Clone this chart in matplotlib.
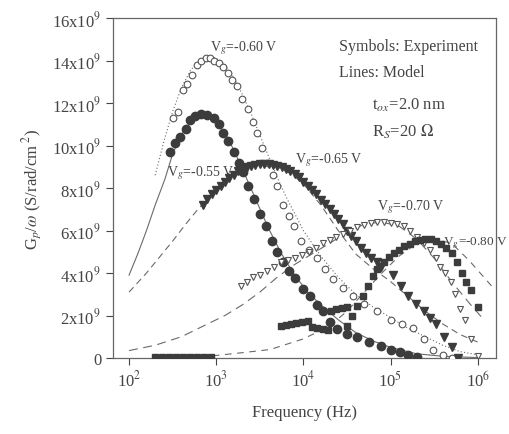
import numpy as np
import matplotlib
matplotlib.use("Agg")
import matplotlib.pyplot as plt

plt.rcParams["font.family"] = ["Liberation Serif", "DejaVu Serif"]
plt.rcParams["mathtext.fontset"] = "stix"

# experiment, log10(frequency) and Gp/w in units of 1e9
d55_logf = [2.47, 2.53, 2.59, 2.65, 2.7, 2.76, 2.82, 2.9, 2.97, 3.03, 3.08, 3.14, 3.2, 3.26,
            3.31, 3.37, 3.43, 3.5, 3.57, 3.64, 3.7, 3.77, 3.84, 3.9, 4.0, 4.08, 4.16, 4.23,
            4.31, 4.39, 4.5, 4.62, 4.75, 4.89, 5.0, 5.11, 5.2, 5.3]
d55_g = [9.7, 10.1, 10.4, 10.8, 11.2, 11.4, 11.5, 11.45, 11.3, 11.0, 10.6, 10.2, 9.7, 9.2,
         8.75, 8.1, 7.5, 6.8, 6.2, 5.5, 5.0, 4.5, 4.1, 3.75, 3.25, 2.9, 2.5, 2.2,
         1.7, 1.35, 1.15, 1.0, 0.75, 0.55, 0.4, 0.3, 0.15, 0.05]

d60_logf = [2.5, 2.56, 2.62, 2.67, 2.72, 2.78, 2.83, 2.88, 2.93, 2.98, 3.03, 3.08, 3.13, 3.18,
            3.24, 3.3, 3.36, 3.42, 3.47, 3.53, 3.59, 3.65, 3.7, 3.77, 3.83, 3.89, 3.97, 4.06,
            4.16, 4.25, 4.34, 4.45, 4.57, 4.7, 4.85, 5.0, 5.13, 5.26, 5.38, 5.49, 5.6, 5.7]
d60_g = [11.3, 11.6, 12.6, 12.9, 13.3, 13.8, 14.0, 14.1, 14.1, 14.0, 13.9, 13.7, 13.4, 13.1,
         12.8, 12.2, 11.7, 11.1, 10.6, 9.9, 9.2, 8.6, 8.1, 7.2, 6.7, 6.2, 5.5, 5.1,
         4.7, 4.2, 3.7, 3.3, 2.9, 2.55, 2.2, 1.8, 1.6, 1.4, 0.9, 0.4, 0.15, 0.0]

d65_logf = [2.85, 2.9, 2.95, 3.0, 3.05, 3.1, 3.15, 3.2, 3.25, 3.3, 3.35, 3.4, 3.45, 3.5, 3.55,
            3.6, 3.65, 3.7, 3.75, 3.8, 3.85, 3.9, 3.95, 4.0, 4.05, 4.1, 4.15, 4.2, 4.25, 4.3,
            4.35, 4.4, 4.45, 4.5, 4.55, 4.6, 4.66, 4.72, 4.78, 4.84, 4.89,
            5.03, 5.12, 5.2, 5.29, 5.38, 5.45, 5.52, 5.61, 5.71, 5.78]
d65_g = [7.2, 7.5, 7.7, 7.9, 8.1, 8.3, 8.45, 8.6, 8.8, 8.9, 9.0, 9.05, 9.1, 9.15, 9.15,
         9.15, 9.1, 9.05, 9.0, 8.9, 8.8, 8.65, 8.5, 8.3, 8.1, 7.9, 7.7, 7.45, 7.25, 7.0,
         6.8, 6.55, 6.3, 6.0, 5.75, 5.5, 5.2, 4.95, 4.7, 4.5, 4.3,
         3.9, 3.4, 2.9, 2.55, 2.2, 1.9, 1.6, 1.0, 0.5, 0.0]

d70_logf = [3.28, 3.35, 3.42, 3.5, 3.58, 3.66, 3.74, 3.82, 3.9, 3.98, 4.06, 4.14, 4.22, 4.3,
            4.38, 4.46, 4.54, 4.62, 4.7, 4.78, 4.85, 4.93, 5.0, 5.08, 5.15,
            5.22, 5.3, 5.38, 5.45, 5.52, 5.57, 5.63, 5.69, 5.74, 5.8, 5.85, 5.92, 6.0]
d70_g = [3.4, 3.6, 3.8, 3.9, 4.1, 4.3, 4.5, 4.6, 4.7, 4.85, 5.0, 5.2, 5.4, 5.55,
         5.7, 5.85, 6.0, 6.15, 6.25, 6.35, 6.4, 6.4, 6.35, 6.3, 6.2,
         6.0, 5.7, 5.4, 5.1, 4.7, 4.3, 4.0, 3.6, 3.0, 2.3, 1.8, 0.9, 0.1]

d80_logf = [2.3, 2.38, 2.46, 2.54, 2.62, 2.7, 2.78, 2.86, 2.94,
            3.74, 3.8, 3.86, 3.92, 3.98, 4.05, 4.1, 4.16, 4.22, 4.28, 4.32, 4.38, 4.44, 4.5,
            4.5, 4.56, 4.62, 4.68, 4.74, 4.8, 4.85, 4.92, 4.98, 5.04, 5.1, 5.16, 5.22, 5.28,
            5.34, 5.4, 5.46, 5.52, 5.58, 5.64, 5.7, 5.76, 5.82, 5.87, 5.92, 6.0]
d80_g = [0.05, 0.05, 0.05, 0.05, 0.05, 0.05, 0.05, 0.05, 0.05,
         1.5, 1.55, 1.6, 1.65, 1.7, 1.75, 1.45, 1.4, 1.35, 1.3, 2.2, 2.3, 2.35, 2.4,
         1.5, 2.0, 2.45, 2.9, 3.4, 3.85, 4.2, 4.5, 4.75, 4.95, 5.1, 5.25, 5.35, 5.5,
         5.55, 5.6, 5.6, 5.5, 5.35, 5.2, 4.95, 4.5, 4.0, 3.6, 3.2, 2.4]

# model curves
m55_logf = [2.0, 2.1, 2.2, 2.3, 2.41, 2.5, 2.6, 2.7, 2.8, 2.9, 3.0, 3.1, 3.2, 3.3, 3.45, 3.6,
            3.75, 3.9, 4.05, 4.2, 4.4, 4.6, 4.8, 5.0, 5.3, 5.6, 6.0]
m55_g = [3.9, 4.9, 6.0, 7.2, 8.4, 9.6, 10.5, 11.1, 11.4, 11.4, 11.1, 10.6, 9.8, 8.9, 7.5, 6.1,
         4.9, 3.9, 3.1, 2.5, 1.8, 1.2, 0.8, 0.5, 0.2, 0.08, 0.02]
m60_logf = [2.3, 2.4, 2.5, 2.6, 2.7, 2.8, 2.9, 3.0, 3.1, 3.2, 3.3, 3.4, 3.5, 3.6, 3.7, 3.8, 3.9,
            4.0, 4.2, 4.4, 4.6, 4.8, 5.0, 5.2, 5.4, 5.6, 5.8, 6.0]
m60_g = [8.6, 10.2, 11.6, 12.7, 13.5, 14.0, 14.2, 14.1, 13.8, 13.2, 12.4, 11.5, 10.5, 9.5, 8.5,
         7.6, 6.8, 6.0, 4.8, 3.8, 3.0, 2.4, 1.9, 1.4, 1.0, 0.6, 0.3, 0.15]
m65_logf = [2.0, 2.2, 2.36, 2.5, 2.65, 2.79, 2.95, 3.1, 3.25, 3.4, 3.55, 3.7, 3.85, 4.0, 4.2,
            4.4, 4.6, 4.8, 5.0, 5.2, 5.4, 5.6, 5.8, 6.0]
m65_g = [3.1, 4.0, 4.8, 5.5, 6.3, 7.0, 7.7, 8.3, 8.75, 9.0, 9.1, 9.0, 8.7, 8.2, 7.2,
         6.0, 4.9, 4.2, 3.6, 2.9, 2.2, 1.6, 1.1, 0.75]
m70_logf = [2.0, 2.3, 2.6, 2.9, 3.1, 3.3, 3.5, 3.7, 3.9, 4.1, 4.3, 4.5, 4.7, 4.9, 5.1, 5.3,
            5.5, 5.7, 5.9, 6.05]
m70_g = [0.35, 0.6, 1.0, 1.6, 2.0, 2.5, 3.1, 3.8, 4.4, 4.9, 5.4, 5.9, 6.3, 6.4, 6.2, 5.6,
         4.7, 3.6, 2.6, 1.9]
m80_logf = [2.4, 2.7, 3.0, 3.3, 3.62, 4.0, 4.3, 4.5, 4.7, 4.9, 5.1, 5.3, 5.5, 5.7, 5.9, 6.05, 6.2]
m80_g = [0.0, 0.05, 0.12, 0.25, 0.4, 0.9, 1.5, 2.2, 3.1, 4.0, 4.8, 5.4, 5.6, 5.4, 4.6, 3.9, 3.2]

yticks = [0, 2, 4, 6, 8, 10, 12, 14, 16]
xticks = [2, 3, 4, 5, 6]


def f(v):
    return np.power(10.0, np.array(v))


def g(v):
    return np.array(v) * 1e9


fig = plt.figure(figsize=(5.1, 4.35), dpi=100)
ax = fig.add_axes([0.2216, 0.1747, 0.7509, 0.7816])

lc = "#6a6a6a"
ax.plot(f(m55_logf), g(m55_g), "-", color=lc, lw=0.8)
ax.plot(f(m60_logf), g(m60_g), linestyle=(0, (1, 2)), color=lc, lw=0.8)
ax.plot(f(m65_logf), g(m65_g), linestyle=(0, (6, 4)), color=lc, lw=0.8)
ax.plot(f(m70_logf), g(m70_g), linestyle=(0, (8, 5)), color=lc, lw=0.8)
ax.plot(f(m80_logf), g(m80_g), linestyle=(0, (6, 5)), color=lc, lw=0.8)

tc = "#444444"
# this label sits behind the markers, as in the original
ax.text(10 ** 2.43, 8.6e9, r"V$_g$=-0.55 V", fontsize=10, color=tc, zorder=1)

dk = "#3c3c3c"
ax.plot(f(d55_logf), g(d55_g), "o", ms=6, mfc=dk, mec=dk, ls="none", zorder=3)
ax.plot(f(d60_logf), g(d60_g), "o", ms=4.8, mfc="white", mec="#555555", mew=0.8, ls="none", zorder=3)
ax.plot(f(d65_logf), g(d65_g), "v", ms=6, mfc=dk, mec=dk, ls="none", zorder=3)
ax.plot(f(d70_logf), g(d70_g), "v", ms=5, mfc="white", mec="#555555", mew=0.8, ls="none", zorder=3)
ax.plot(f(d80_logf), g(d80_g), "s", ms=4.8, mfc=dk, mec=dk, ls="none", zorder=3)

ax.set_xscale("log")
ax.set_xlim(10 ** 1.816, 10 ** 6.21)
ax.set_ylim(0, 16e9)
ax.set_xticks([10.0 ** k for k in xticks])
ax.set_xticklabels([r"10$^{%d}$" % k for k in xticks])
ax.xaxis.set_minor_locator(matplotlib.ticker.NullLocator())
ax.set_yticks([v * 1e9 for v in yticks])
ax.set_yticklabels(["0" if v == 0 else r"%dx10$^{9}$" % v for v in yticks])
ax.tick_params(labelsize=12, colors="#444444", length=5, width=0.8, direction="out")
for s in ax.spines.values():
    s.set_color("#666666")
    s.set_linewidth(0.9)

ax.set_xlabel("Frequency (Hz)", fontsize=12, color="#444444", labelpad=10)
ax.set_ylabel(r"G$_p$/$\omega$ (S/rad/cm$^{\ 2}$)", fontsize=12, color="#444444", labelpad=6)

ax.text(0.59, 0.905, "Symbols: Experiment", transform=ax.transAxes, fontsize=11.5, color=tc)
ax.text(0.59, 0.83, "Lines: Model", transform=ax.transAxes, fontsize=11.5, color=tc)
ax.text(0.675, 0.735, r"t$_{ox}$=2.0 nm", transform=ax.transAxes, fontsize=12, color=tc)
ax.text(0.675, 0.655, r"R$_S$=20 $\Omega$", transform=ax.transAxes, fontsize=12, color=tc)

ax.text(10 ** 2.93, 14.5e9, r"V$_g$=-0.60 V", fontsize=10, color=tc)
ax.text(10 ** 3.9, 9.2e9, r"V$_g$=-0.65 V", fontsize=10, color=tc)
ax.text(10 ** 4.85, 7.0e9, r"V$_g$=-0.70 V", fontsize=10, color=tc)
ax.text(10 ** 5.6, 5.35e9, r"V$_g$=-0.80 V", fontsize=9.5, color=tc, clip_on=False)

fig.savefig("out.png", dpi=100)
